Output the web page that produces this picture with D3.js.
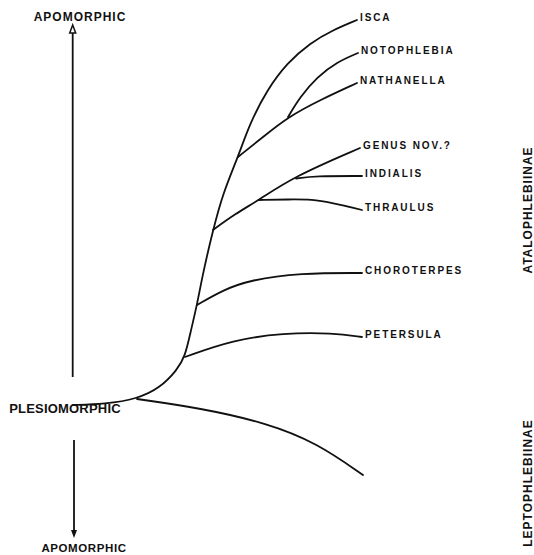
<!DOCTYPE html>
<html>
<head>
<meta charset="utf-8">
<script src="https://cdn.jsdelivr.net/npm/d3@7"></script>
<style>
  body { margin: 0; background: #fff; }
  text { font-family: "Liberation Sans", Arial, sans-serif; font-weight: bold; fill: #111; }
</style>
</head>
<body>
<div id="tree"></div>
<script>
var svgWidth = 534;
var svgHeight = 555;

// branch paths, [divergence, apomorphy] in diagram units
var trunk = [[0, 0], [32, 1], [64, 6], [87, 17], [104, 35], [112, 48], [118, 75], [124, 100],
  [130, 132], [140, 175], [150, 212], [165, 248], [177, 282], [194, 315], [214, 342],
  [237, 362], [260, 375], [284, 385]];
var nathanella = [[165, 248], [190, 268], [215, 288], [247, 305], [284, 322]];
var notophlebia = [[215, 288], [227, 308], [244, 328], [264, 343], [285, 352]];
var genusNov = [[140, 175], [162, 191], [186, 205], [220, 228], [287, 257]];
var indialis = [[223, 226.5], [242, 229], [289, 229]];
var thraulus = [[186, 205], [215, 205.5], [244, 206], [289, 195]];
var choroterpes = [[124, 100], [150, 115], [177, 125], [227, 132], [289, 132]];
var petersula = [[112, 48], [160, 65], [210, 72], [260, 72], [289, 68]];
var leptophlebiinae = [[64, 6], [127, -3], [194, -18], [244, -38], [290, -70]];

var taxa = ["ISCA", "NOTOPHLEBIA", "NATHANELLA", "GENUS NOV.?", "INDIALIS", "THRAULUS", "CHOROTERPES", "PETERSULA"];
var taxaPaths = [trunk, notophlebia, nathanella, genusNov, indialis, thraulus, choroterpes, petersula];

// apomorphy axis arrows (diagram units)
var arrowUp = [28, 380];
var arrowDown = [-35, -133];

var svg = d3.select("#tree")
  .append("svg")
  .attr("width", svgWidth)
  .attr("height", svgHeight);

var x = d3.scaleLinear().domain([0, 290]).range([73, 363]);
var y = d3.scaleLinear().domain([0, 385]).range([405, 20]);

var line = d3.line()
  .x(d => x(d[0]))
  .y(d => y(d[1]))
  .curve(d3.curveBasis);

var branches = [trunk, nathanella, notophlebia, genusNov, indialis, thraulus, choroterpes, petersula, leptophlebiinae];

svg.append("g")
  .selectAll("path")
  .data(branches)
  .enter()
  .append("path")
  .attr("d", line)
  .attr("fill", "none")
  .attr("stroke", "#111")
  .attr("stroke-width", 1.8)
  .attr("stroke-linecap", "round");

// taxon labels at branch tips
svg.append("g")
  .selectAll("text")
  .data(taxa)
  .enter()
  .append("text")
  .attr("x", (d, i) => x(taxaPaths[i][taxaPaths[i].length - 1][0]) + 3)
  .attr("y", (d, i) => y(taxaPaths[i][taxaPaths[i].length - 1][1]) + 1)
  .attr("font-size", 10)
  .attr("letter-spacing", 1.9)
  .text(d => d);

// apomorphy arrows
var upX = x(-0.3), downX = x(1);
svg.append("line")
  .attr("x1", upX).attr("x2", upX)
  .attr("y1", y(arrowUp[0])).attr("y2", y(arrowUp[1]) + 7)
  .attr("stroke", "#111").attr("stroke-width", 1.8);
svg.append("path")
  .attr("d", `M${upX},${y(arrowUp[1])} L${upX + 3},${y(arrowUp[1]) + 8} L${upX - 3},${y(arrowUp[1]) + 8} Z`)
  .attr("fill", "#fff").attr("stroke", "#111").attr("stroke-width", 1.5);

svg.append("line")
  .attr("x1", downX).attr("x2", downX)
  .attr("y1", y(arrowDown[0])).attr("y2", y(arrowDown[1]) - 6)
  .attr("stroke", "#111").attr("stroke-width", 1.8);
svg.append("path")
  .attr("d", `M${downX},${y(arrowDown[1])} L${downX + 3},${y(arrowDown[1]) - 8} L${downX - 3},${y(arrowDown[1]) - 8} Z`)
  .attr("fill", "#111");

svg.append("text")
  .attr("x", x(7)).attr("y", y(384))
  .attr("text-anchor", "middle")
  .attr("font-size", 12)
  .attr("letter-spacing", 1)
  .text("APOMORPHIC");

svg.append("text")
  .attr("x", x(-8)).attr("y", y(-8))
  .attr("text-anchor", "middle")
  .attr("font-size", 13)
  .attr("letter-spacing", 0.2)
  .text("PLESIOMORPHIC");

svg.append("text")
  .attr("x", x(11)).attr("y", y(-147))
  .attr("text-anchor", "middle")
  .attr("font-size", 11.5)
  .attr("letter-spacing", 0.6)
  .text("APOMORPHIC");

// subfamily labels, vertical on the right
var subfamilies = ["ATALOPHLEBIINAE", "LEPTOPHLEBIINAE"];
var subfamilyY = [195, -78];

svg.append("g")
  .selectAll("text")
  .data(subfamilies)
  .enter()
  .append("text")
  .attr("transform", (d, i) => `translate(${x(459)}, ${y(subfamilyY[i])}) rotate(-90)`)
  .attr("text-anchor", "middle")
  .attr("font-size", 12)
  .attr("letter-spacing", 1)
  .text(d => d);
</script>
</body>
</html>
